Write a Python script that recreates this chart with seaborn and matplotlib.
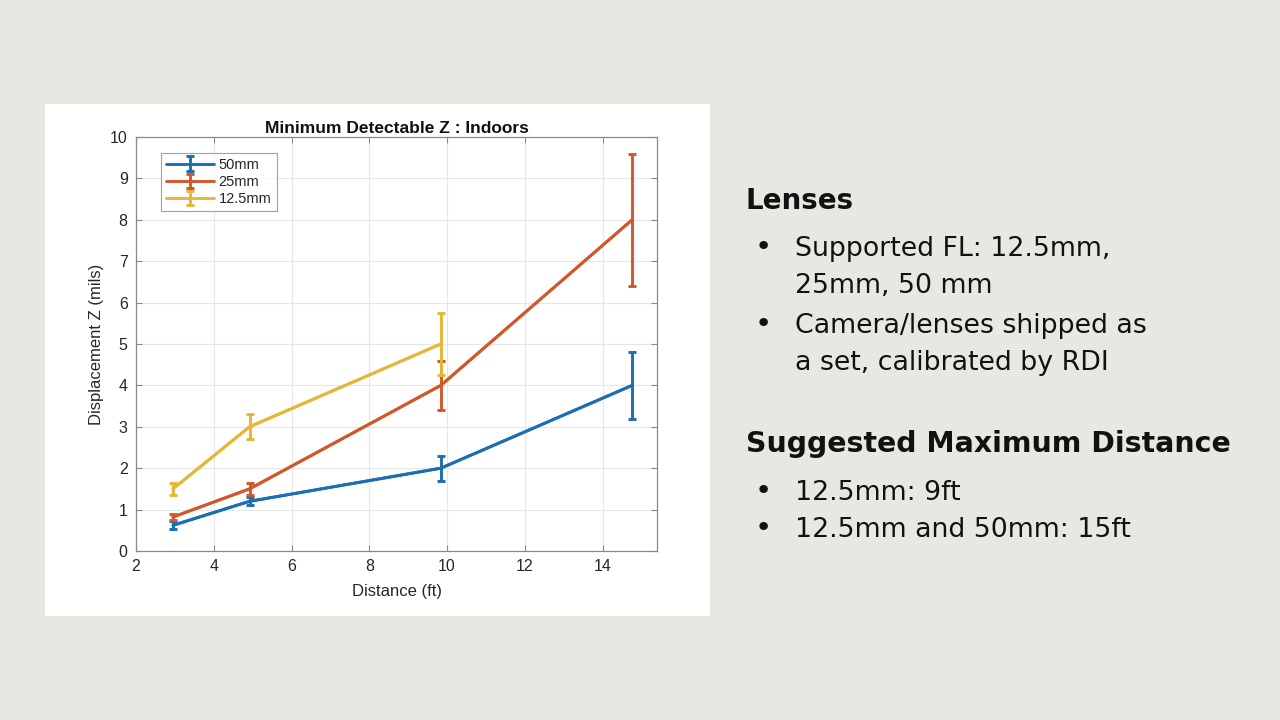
import matplotlib
matplotlib.use("Agg")
import matplotlib.pyplot as plt
import seaborn as sns
import pandas as pd

# ---- data ----
distance_ft = [2.95, 4.92, 9.84, 14.76]
z_50mm = [0.62, 1.2, 2.0, 4.0]
err_50mm = [0.1, 0.1, 0.3, 0.8]
z_25mm = [0.82, 1.5, 4.0, 8.0]
err_25mm = [0.08, 0.15, 0.6, 1.6]
distance_125 = [2.95, 4.92, 9.84]
z_125mm = [1.5, 3.0, 5.0]
err_125mm = [0.15, 0.3, 0.75]
series_labels = ["50mm", "25mm", "12.5mm"]
series_colors = ["#1a6fb3", "#d2572a", "#e6b734"]

x_ticks = [2, 4, 6, 8, 10, 12, 14]
y_ticks = [0, 1, 2, 3, 4, 5, 6, 7, 8, 9, 10]

title = "Minimum Detectable Z : Indoors"
xlabel = "Distance (ft)"
ylabel = "Displacement Z (mils)"

heading1 = "Lenses"
bullets1 = [["Supported FL: 12.5mm,", "25mm, 50 mm"],
            ["Camera/lenses shipped as", "a set, calibrated by RDI"]]
heading2 = "Suggested Maximum Distance"
bullets2 = [["12.5mm: 9ft"], ["12.5mm and 50mm: 15ft"]]

sns.set_style("white")
plt.rcParams['font.family'] = ['Liberation Sans', 'DejaVu Sans']

BG = "#e8e8e3"
fig = plt.figure(figsize=(12.8, 7.2), dpi=100, facecolor=BG)

# white panel behind chart
panel = fig.add_axes([45/1280, 1-616/720, 665/1280, 512/720], zorder=-5)
panel.set_facecolor("white")
panel.set_xticks([])
panel.set_yticks([])
for s in panel.spines.values():
    s.set_visible(False)

ax = fig.add_axes([136/1280, 1-551/720, 521/1280, 414/720], zorder=1)
ax.set_facecolor("white")

LW = 2.1
frames = [
    pd.DataFrame({"x": distance_ft, "y": z_50mm, "e": err_50mm}),
    pd.DataFrame({"x": distance_ft, "y": z_25mm, "e": err_25mm}),
    pd.DataFrame({"x": distance_125, "y": z_125mm, "e": err_125mm}),
]
for df, lab, col in zip(frames, series_labels, series_colors):
    sns.lineplot(data=df, x="x", y="y", ax=ax, color=col, linewidth=LW,
                 legend=False, zorder=3)
    ax.errorbar(df["x"], df["y"], yerr=df["e"], fmt="-", color=col,
                linewidth=LW, elinewidth=LW, capsize=3.2, capthick=LW,
                label=lab, zorder=3)

ax.set_xlim(2, 15.4)
ax.set_ylim(0, 10)
ax.set_xticks(x_ticks)
ax.set_yticks(y_ticks)
ax.grid(True, color="#e6e6e6", linewidth=0.8)
ax.set_axisbelow(True)
ax.tick_params(direction="in", length=4, width=0.8, colors="#8a8a8a",
               labelcolor="#262626", labelsize=11.5, top=True, right=True,
               bottom=True, left=True, pad=6)
for s in ax.spines.values():
    s.set_color("#8a8a8a")
    s.set_linewidth(0.9)

ax.set_title(title, fontsize=12.5, fontweight="bold", color="#111111", pad=3)
ax.set_xlabel(xlabel, fontsize=12, color="#262626", labelpad=7)
ax.set_ylabel(ylabel, fontsize=12, color="#262626", labelpad=4)

leg = ax.legend(loc="upper left", bbox_to_anchor=(0.048, 0.962), fontsize=10.5,
                frameon=True, fancybox=False, edgecolor="#8a8a8a",
                handlelength=3.3, borderpad=0.35, labelspacing=0.22,
                handletextpad=0.3, borderaxespad=0)
leg.get_frame().set_linewidth(0.8)

# right-hand text
font_b = ['DejaVu Sans']
def fy(px):
    return 1 - px / 720

fig.text(746/1280, fy(209), heading1, fontsize=20, fontweight="bold",
         family=font_b, color="#111111", va="baseline")
base = [256, 333]
for b, lines in zip(base, bullets1):
    fig.text(763/1280, fy(b - 1), "\u2022", fontsize=21, family=font_b,
             color="#111111", va="baseline", ha="center")
    for i, ln in enumerate(lines):
        fig.text(795/1280, fy(b + 37 * i), ln, fontsize=19.3, family=font_b,
                 color="#111111", va="baseline")

fig.text(746/1280, fy(452), heading2, fontsize=20.4, fontweight="bold",
         family=font_b, color="#111111", va="baseline")
base = [500, 537]
for b, lines in zip(base, bullets2):
    fig.text(763/1280, fy(b - 1), "\u2022", fontsize=21, family=font_b,
             color="#111111", va="baseline", ha="center")
    for i, ln in enumerate(lines):
        fig.text(795/1280, fy(b + 37 * i), ln, fontsize=19.3, family=font_b,
                 color="#111111", va="baseline")

fig.savefig("out.png", dpi=100, facecolor=BG)
